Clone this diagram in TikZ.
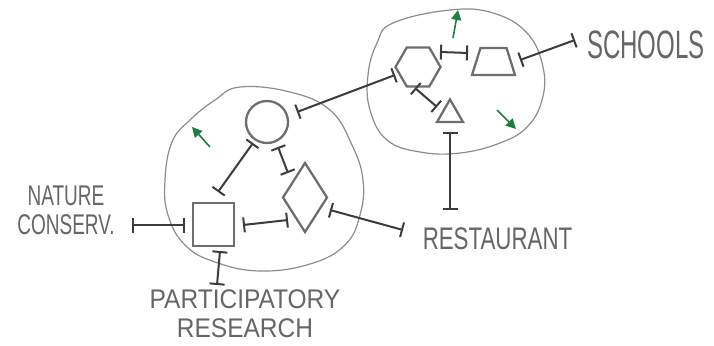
\documentclass[tikz,border=0pt]{standalone}
\usepackage{fontspec}
\setmainfont{Liberation Sans}
\usetikzlibrary{arrows.meta,shapes.geometric}
\definecolor{shapegray}{HTML}{6E6E6E}
\definecolor{conngray}{HTML}{3C3C3C}
\definecolor{blobgray}{HTML}{8C8C8C}
\definecolor{txtgray}{HTML}{666666}
\definecolor{arrgreen}{HTML}{1F7F3F}
\begin{document}
\begin{tikzpicture}[x=1pt,y=-1pt,
  shapebox/.style={draw=shapegray, line width=2.3pt, inner sep=0pt, outer sep=0pt},
  tee/.style={draw=conngray, line width=2pt, arrows={Bar[width=15pt]-Bar[width=15pt]}},
  blob/.style={draw=blobgray, line width=1.2pt},
  greenarrow/.style={draw=arrgreen, line width=1.6pt, arrows={-Triangle[length=10pt,width=10pt]}},
  lbl/.style={text=txtgray, inner sep=0pt, align=center}]
\fill[white] (0,0) rectangle (714,345);
\useasboundingbox (0,0) rectangle (714,345);

% blobs
\draw[blob] plot[smooth cycle, tension=0.7] coordinates {(240,87) (290,92) (330,110) (352,145) (363,180) (360,215) (345,245) (310,264) (260,271) (215,262) (185,245) (168,215) (165,180) (172,142) (190,120) (215,100)};
\draw[blob] plot[smooth cycle, tension=0.7] coordinates {(377,43) (393,23) (450,10) (493,13) (527,33) (543,67) (542,100) (527,127) (500,143) (460,153) (420,152) (387,140) (370,110) (368,75)};

% shapes
\node[shapebox, circle, minimum size=42pt] (circ) at (267,122) {};
\node[shapebox, rectangle, minimum width=41pt, minimum height=43pt] (sq) at (213.5,224.5) {};
\node[shapebox, diamond, minimum width=44pt, minimum height=69pt] (dia) at (305,197.5) {};
\node[shapebox, regular polygon, regular polygon sides=6, minimum size=45pt] (hex) at (418,67) {};
\node[shapebox, trapezium, inner sep=1pt, trapezium stretches=true, trapezium left angle=72, trapezium right angle=72, minimum width=43pt, minimum height=27pt] (trap) at (493.5,61.5) {};
\node[shapebox, regular polygon, regular polygon sides=3, minimum size=30pt] (tri) at (450,114.5) {};

% labels
\node[lbl, font=\fontsize{22.3}{24}\selectfont] (rest) at (497.5,238.5) {\scalebox{1}[1.4]{RESTAURANT}};
\node[lbl, font=\fontsize{24}{26}\selectfont] (schools) at (646,45) {\scalebox{1}[1.65]{SCHOOLS}};
\node[lbl, font=\fontsize{19}{29}\selectfont] (nature) at (66,210) {\scalebox{1}[1.5]{NATURE}\\\scalebox{1}[1.5]{CONSERV.}};
\node[lbl, font=\fontsize{24.5}{29}\selectfont] (part) at (245,314) {\scalebox{1}[1.1]{PARTICIPATORY}\\\scalebox{1}[1.1]{RESEARCH}};
\coordinate (triend) at (450,210);

% connectors
\draw[tee] ([shift={(-14,21)}]circ.center) -- ([shift={(4.5,-32.5)}]sq.center);
\draw[tee] ([shift={(11,25)}]circ.center) -- ([shift={(-17,-24.5)}]dia.center);
\draw[tee] ([shift={(29.5,0.5)}]sq.center) -- ([shift={(-17,22.5)}]dia.center);
\draw[tee] ([shift={(30,-10)}]circ.center) -- ([shift={(-23,8)}]hex.center);
\draw[tee] ([shift={(25,12.5)}]dia.center) -- ([shift={(-94.5,-8.5)}]rest.center);
\draw[tee] ([shift={(66,15)}]nature.center) -- ([shift={(-28.5,0.5)}]sq.center);
\draw[tee] ([shift={(6.5,26.5)}]sq.center) -- ([shift={(-28,-29)}]part.center);
\draw[tee] ([shift={(22,-15)}]hex.center) -- ([shift={(-25.5,-8.5)}]trap.center);
\draw[tee] ([shift={(26.5,-1.5)}]trap.center) -- ([shift={(-71,-5)}]schools.center);
\draw[tee] ([shift={(-3,21)}]hex.center) -- ([shift={(-13,-7.5)}]tri.center);
\draw[tee] ([shift={(0,17.5)}]tri.center) -- (triend);

% growth arrows
\coordinate (ga1) at (210,147); \coordinate (gb1) at (192,127);
\coordinate (ga2) at (453,38);  \coordinate (gb2) at (458,10);
\coordinate (ga3) at (497,110); \coordinate (gb3) at (516,129);
\draw[greenarrow] (ga1) -- (gb1);
\draw[greenarrow] (ga2) -- (gb2);
\draw[greenarrow] (ga3) -- (gb3);
\end{tikzpicture}
\end{document}
